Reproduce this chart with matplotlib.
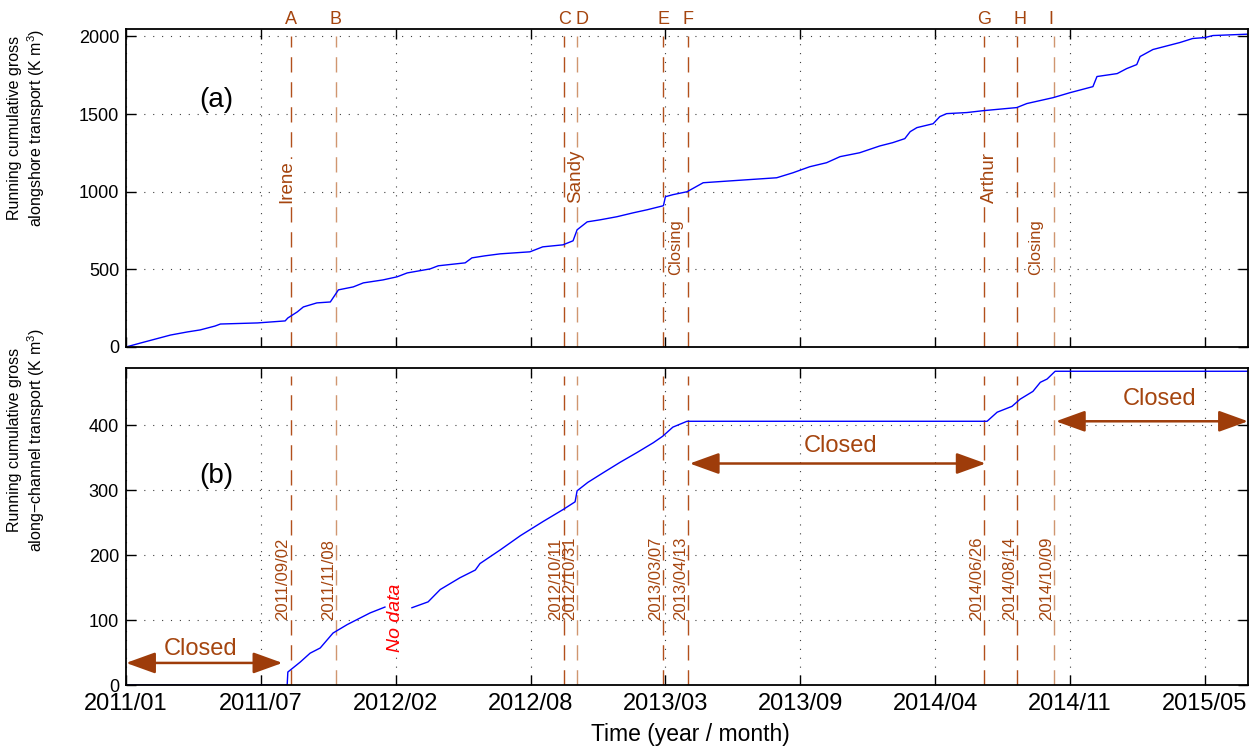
import numpy as np
import matplotlib
matplotlib.use('Agg')
import matplotlib.pyplot as plt
import matplotlib.transforms as mtransforms

plt.rcParams['font.family'] = ['Liberation Sans', 'DejaVu Sans']
plt.rcParams['mathtext.fontset'] = 'custom'
plt.rcParams['mathtext.rm'] = 'Liberation Sans'
plt.rcParams['mathtext.it'] = 'Liberation Sans:italic'

# ---- data (days since 2011/01/01) ----
start = np.datetime64('2011-01-01')

top_days = [0, 21, 66, 91, 110, 132, 140, 195, 236, 240, 254, 263, 283, 303, 307,
            315, 337, 352, 381, 402, 417, 451, 463, 503, 513, 532, 555, 599, 618, 648,
            663, 669, 684, 703, 728, 752, 773, 797, 800, 811, 832, 856, 900, 965, 989,
            1014, 1039, 1059, 1088, 1118, 1137, 1155, 1163, 1173, 1197, 1207, 1217, 1247, 1271, 1321,
            1336, 1375, 1400, 1434, 1440, 1470, 1484, 1499, 1504, 1523, 1563, 1582, 1600, 1612, 1664]
top_vals = [0, 25, 77, 97, 110, 135, 148, 155, 168, 187, 226, 258, 284, 290, 316,
            368, 387, 413, 432, 452, 477, 503, 523, 542, 574, 587, 600, 613, 645, 658,
            684, 755, 806, 819, 839, 864, 884, 910, 968, 981, 1000, 1058, 1071, 1090, 1122,
            1161, 1187, 1226, 1251, 1295, 1316, 1342, 1387, 1413, 1438, 1484, 1503, 1510, 1522, 1542,
            1568, 1606, 1638, 1677, 1742, 1761, 1793, 1819, 1871, 1916, 1961, 1987, 1993, 2006, 2015]

bot_days = [0, 239, 240, 258, 273, 288, 307, 328, 362, 384, 400,
            424, 448, 466, 495, 518, 525, 555, 585, 619, 648,
            666, 669, 685, 708, 733, 758, 782, 796, 811, 832,
            1277, 1292, 1314, 1326, 1345, 1356, 1366, 1378, 1664]
bot_vals = [0, 0, 20, 35, 49, 57, 80, 93, 111, 120, np.nan,
            119, 128, 147, 165, 177, 187, 208, 230, 252, 270,
            282, 299, 312, 327, 343, 358, 373, 383, 397, 406,
            406, 420, 429, 440, 452, 466, 471, 483, 483]

event_letters = ['A', 'B', 'C', 'D', 'E', 'F', 'G', 'H', 'I']
event_dates = ['2011-09-02', '2011-11-08', '2012-10-11', '2012-10-31', '2013-03-07',
               '2013-04-13', '2014-06-26', '2014-08-14', '2014-10-09']
event_light = [False, True, False, True, False, False, False, False, True]
letter_nudge = [0, 0, 1, 7, 1, 0, 0, 5, -5]   # days, to keep letters apart

storm_names = ['Irene', 'Sandy', 'Arthur']
storm_dates = ['2011-08-28', '2012-10-29', '2014-07-04']
closing_dates = ['2013-03-26', '2014-09-11']

closed_spans = [('2011-01-01', '2011-08-21'), ('2013-04-16', '2014-06-29'), ('2014-10-11', '2015-07-23')]
closed_y = [34, 341, 406]
closed_text_dates = ['2011-04-22', '2013-11-25', '2015-03-14']
closed_text_y = [55, 368, 440]

xtick_days = [0, 200, 400, 600, 800, 1000, 1200, 1400, 1600]
xtick_labels = ['2011/01', '2011/07', '2012/02', '2012/08', '2013/03',
                '2013/09', '2014/04', '2014/11', '2015/05']

dark = '#b2501c'
light = '#d09670'
txtc = '#a5450f'
arrc = '#9e3c0a'

def d(s):
    return np.datetime64(s)

top_t = start + np.array(top_days).astype('timedelta64[D]')
bot_t = start + np.array(bot_days).astype('timedelta64[D]')
xt = start + np.array(xtick_days).astype('timedelta64[D]')
xmin, xmax = start, start + np.timedelta64(1664, 'D')

fig = plt.figure(figsize=(12.49, 7.48), dpi=100)
ax1 = fig.add_axes([0.1009, 0.5361, 0.8983, 0.4251])
ax2 = fig.add_axes([0.1009, 0.0842, 0.8983, 0.4238])

for ax in (ax1, ax2):
    ax.set_xlim(xmin, xmax)
    ax.set_xticks(xt)
    ax.grid(True, color='0.25', linestyle=(0, (1, 7)), linewidth=0.8)
    ax.tick_params(direction='in', length=7, width=1, top=True, right=True)
    for sp in ax.spines.values():
        sp.set_linewidth(1.3)

ax1.set_xticklabels([])
ax2.set_xticklabels(xtick_labels, fontsize=17)
ax1.tick_params(axis='y', labelsize=13, pad=5)
ax2.tick_params(axis='y', labelsize=13, pad=5)
ax2.tick_params(axis='x', pad=6)

# event lines
for date, lt in zip(event_dates, event_light):
    c = light if lt else dark
    ax1.plot([d(date), d(date)], [0, 2000], color=c, lw=1.0, dashes=(11, 7))
    ax2.plot([d(date), d(date)], [0, 475], color=c, lw=1.0, dashes=(11, 7))

ax1.plot(top_t, top_vals, color='#0000ff', lw=1.0)
ax2.plot(bot_t, bot_vals, color='#0000ff', lw=1.0)

ax1.set_ylim(0, 2048)
ax1.set_yticks([0, 500, 1000, 1500, 2000])
ax2.set_ylim(0, 488)
ax2.set_yticks([0, 100, 200, 300, 400])

# letters above top panel
trans = mtransforms.blended_transform_factory(ax1.transData, ax1.transAxes)
for let, date, nd in zip(event_letters, event_dates, letter_nudge):
    ax1.text(d(date) + np.timedelta64(nd, 'D'), 1.003, let, transform=trans,
             ha='center', va='bottom', fontsize=13, color=txtc)

for name, date in zip(storm_names, storm_dates):
    ax1.text(d(date), 930, name, rotation=90, ha='center', va='bottom',
             fontsize=13.5, color=txtc,
             bbox=dict(facecolor='white', edgecolor='none', pad=1))
for date in closing_dates:
    ax1.text(d(date), 464, 'Closing', rotation=90, ha='center', va='bottom',
             fontsize=12, color=txtc)

ax1.text(d('2011-05-15'), 1594, '(a)', fontsize=20, ha='center', va='center')
ax2.text(d('2011-05-15'), 321, '(b)', fontsize=20, ha='center', va='center')

# date labels in bottom panel
for date in event_dates:
    ax2.text(d(date), 100, date.replace('-', '/'), rotation=90, ha='right',
             va='bottom', fontsize=12, color=txtc)

ax2.text(d('2012-02-05'), 51, 'No data', rotation=90, ha='center', va='bottom',
         fontsize=14, color='red', style='italic')

for (a, b), y, td, ty in zip(closed_spans, closed_y, closed_text_dates, closed_text_y):
    ax2.annotate('', xy=(d(b), y), xytext=(d(a), y),
                 arrowprops=dict(arrowstyle='<|-|>,head_length=1.8,head_width=0.65',
                                 color=arrc, lw=1.8, mutation_scale=10,
                                 shrinkA=0, shrinkB=0))
    ax2.text(d(td), ty, 'Closed', fontsize=17, color=txtc, ha='center', va='center')

fig.text(27 / 1249, 1 - 128 / 748,
         'Running cumulative gross\nalongshore transport (K m$^3$)',
         rotation=90, ha='center', va='center', fontsize=11.5, multialignment='center')
fig.text(27 / 1249, 1 - 440 / 748,
         'Running cumulative gross\nalong\u2212channel transport (K m$^3$)',
         rotation=90, ha='center', va='center', fontsize=11.5, multialignment='center')
fig.text(690 / 1249, 1 - 735 / 748, 'Time (year / month)', ha='center', va='center',
         fontsize=16.5)

fig.savefig('out.png', dpi=100)
